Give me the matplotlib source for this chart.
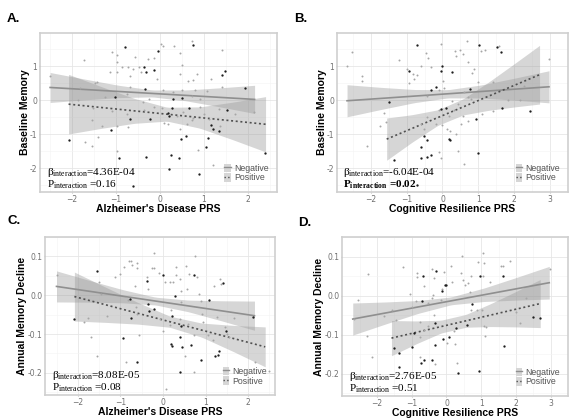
import numpy as np
import matplotlib
matplotlib.use("Agg")
import matplotlib.pyplot as plt
from matplotlib.lines import Line2D
from matplotlib.patches import Patch

# ---------------- data ----------------
# A. Alzheimer's Disease PRS vs Baseline Memory
a_neg_x = [0.72, 0.02, 0.06, 0.32, -1.10, -0.98, 0.45, 1.42, -0.57, -0.27, -0.14, -1.74, -0.98, -1.14,
           -0.87, -0.74, -0.47, -0.61, -0.43, -0.97, -0.68, 0.49, 0.45, 0.63, 0.74, 0.83, 1.17, -0.08,
           1.06, 1.40, -1.44, -1.48, -1.82, -1.86, -0.68, 0.06, 0.30, 0.51, 0.80, -1.25, -0.76, -0.38,
           -0.25, 0.72, 0.91, -1.52, -1.55, -1.33, -1.10, -0.76, -0.36, -0.13, 0.04, 0.38, 0.52, 0.76,
           0.92, 1.00, 1.12, 1.33, 1.70, 0.08, 0.19, 0.61, 0.72, 1.36, 0.45, -0.98, -0.72, -1.70, -1.55,
           -1.42, -0.98, 0.87, 1.21, 2.14, -2.50]
a_neg_y = [1.73, 1.65, 1.60, 1.58, 1.42, 1.33, 1.38, 1.47, 1.27, 1.21, 1.24, 1.18, 1.13, 0.83,
           0.96, 0.96, 0.96, 0.91, 0.83, 0.83, 0.72, 1.03, 0.76, 0.57, 0.59, 0.76, 0.62, 0.62,
           0.27, 0.37, 0.54, 0.50, 0.35, 0.00, 0.39, 0.29, 0.25, 0.30, 0.29, 0.10, 0.18, -0.07,
           0.03, 0.13, 0.02, -0.22, -0.59, -0.75, -0.31, -0.41, -0.29, -0.20, -0.22, -0.46, -0.36, -0.53,
           -0.20, -0.41, -0.56, -0.26, -0.41, -0.66, -0.69, -0.71, -0.58, -0.75, -0.85, -0.75, -0.78, -1.22, -1.34,
           -1.07, -1.51, -1.47, -1.90, -0.36, 0.72]
a_pos_x = [0.74, -0.80, -0.04, -0.36, -0.32, -0.13, 1.41, 1.48, -0.34, 1.93, -1.02, 0.29, 0.51, -0.68,
           0.17, 0.20, 0.27, 0.67, 1.52, -0.23, 1.15, 1.21, 1.33, -1.12, -2.08, 0.47, 0.58, 1.08, 1.04,
           -0.93, -0.32, 0.24, 0.42, 0.20, 0.89, -0.61, 2.39]
a_pos_y = [1.62, 1.55, 1.43, 0.98, 0.81, 0.88, 0.75, 0.84, 0.32, 0.35, 0.10, 0.03, 0.05, -0.56,
           -0.39, -0.46, -0.22, -0.22, -0.29, -0.56, -0.74, -0.85, -0.90, -0.88, -1.17, -1.15, -1.05, -1.12, -1.39,
           -1.71, -1.67, -1.61, -1.71, -2.01, -2.18, -2.52, -1.54]
a_neg_band_x = [-2.5, -1.725, -0.95, -0.175, 0.6, 1.375, 2.15]
a_neg_lo = [-0.07, 0.005, 0.072, 0.094, -0.023, -0.203, -0.394]
a_neg_hi = [0.81, 0.619, 0.436, 0.296, 0.297, 0.361, 0.434]
a_neg_fit = [0.37, 0.02]
a_pos_band_x = [-2.08, -1.333, -0.587, 0.16, 0.907, 1.653, 2.4]
a_pos_lo = [-0.995, -0.83, -0.683, -0.618, -0.826, -1.163, -1.521]
a_pos_hi = [0.755, 0.394, 0.049, -0.212, -0.2, -0.061, 0.101]
a_pos_fit = [-0.12, -0.71]

# B. Cognitive Resilience PRS vs Baseline Memory
b_neg_x = [-2.66, -2.51, -2.24, -2.23, -2.10, -1.75, -1.62, -1.57, -1.22, -1.00, -0.83, -0.72, -0.79,
           -0.92, -0.61, -0.45, -0.39, -0.31, -0.04, 0.02, 0.35, 0.39, 0.48, 0.57, 0.68, 0.70, 0.81,
           0.87, 1.07, 1.20, 1.57, 1.00, 1.40, 2.27, 2.97, -0.09, 0.03, -0.44, 0.61, 0.70, 0.80, 1.83,
           2.17, -0.10, 0.31, 0.44, 0.57, 1.40, -0.61, -0.52, -0.44, -0.17, 0.00, 0.13, 0.22, 0.52,
           0.70, 0.39, -0.09, 0.44, -0.03, 0.59, 0.26, 0.17, 1.09]
b_neg_y = [0.99, 1.42, 0.72, 0.57, -1.34, -0.75, -0.39, -0.63, 1.18, 0.91, 0.78, 0.75, 0.62,
           0.49, 1.01, 1.38, 1.25, 0.98, 1.65, 0.57, 1.45, 1.30, 1.47, 1.35, 1.73, 1.11, 0.80,
           0.91, 1.45, 1.47, 1.60, 0.52, 0.52, 0.42, 1.21, 0.29, 0.35, 0.13, 0.23, 0.08, 0.03, 0.00,
           0.00, -0.29, -0.29, -0.12, -0.46, -0.31, -0.69, -0.85, -0.51, -0.71, -0.73, -0.85, -0.90, -0.71,
           -0.61, -1.00, -1.52, -1.49, -1.71, -1.88, -0.02, -0.46, -0.41]
b_pos_x = [-1.50, -0.94, -0.70, -0.02, -0.03, 0.26, 1.02, 1.53, 1.64, -0.17, -0.31, 0.77, 1.66, 2.45,
           -0.04, 0.09, 0.94, -0.52, 0.17, -0.44, -0.61, -0.61, -0.44, -0.31, 0.20, 1.00, -1.35, -0.70]
b_pos_y = [-0.07, 0.84, 1.62, 0.99, 0.84, 0.83, 1.62, 1.55, 1.40, 0.39, 0.29, 0.32, -0.24, -0.31,
           -0.26, -0.22, -0.56, -1.05, -1.15, -1.17, -1.39, -1.69, -1.66, -1.62, -1.18, -1.54, -1.76, -2.50]
b_neg_band_x = [-2.66, -1.722, -0.783, 0.155, 1.093, 2.032, 2.97]
b_neg_lo = [-0.491, -0.278, -0.076, 0.065, 0.06, -0.004, -0.081]
b_neg_hi = [0.451, 0.374, 0.31, 0.305, 0.446, 0.648, 0.861]
b_neg_fit = [-0.02, 0.39]
b_pos_band_x = [-1.555, -0.845, -0.134, 0.576, 1.286, 1.997, 2.707]
b_pos_lo = [-1.767, -1.235, -0.745, -0.437, -0.301, -0.203, -0.117]
b_pos_hi = [-0.527, -0.429, -0.287, 0.035, 0.529, 1.063, 1.607]
b_pos_fit = [-1.147, 0.745]

# C. Alzheimer's Disease PRS vs Annual Memory Decline
c_neg_x = [-2.50, -1.85, -1.76, -1.70, -1.50, -1.55, -1.45, -1.31, -1.13, -1.00, -0.92, -0.82, -0.80,
           -0.76, -0.72, -0.62, -0.61, -0.66, -0.86, -0.64, -0.62, -0.56, -0.38, -0.22, -0.25, -0.20,
           -0.10, 0.05, -0.35, 0.00, -0.08, 0.18, 0.16, 0.23, 0.31, 0.31, 0.41, 0.43, 0.43, 0.57, 0.16,
           0.39, 0.55, 0.60, 0.80, 0.76, 0.84, 0.90, 0.92, 0.95, 0.59, 0.74, 0.52, 0.08, 0.73, 1.05,
           1.17, 1.19, 1.33, 1.36, 1.26, 1.45, 1.50, 1.56, 1.66, 2.16, 2.48]
c_neg_y = [0.051, -0.069, -0.058, -0.107, 0.033, -0.156, 0.004, -0.053, 0.046, 0.055, 0.074, -0.012, 0.088,
           0.088, 0.079, 0.084, 0.071, 0.023, -0.172, -0.030, -0.048, -0.103, 0.047, 0.109, 0.069, 0.071,
           0.057, 0.035, 0.017, -0.091, -0.062, -0.038, 0.033, 0.033, 0.074, 0.053, 0.041, 0.012, -0.018, 0.017, -0.077,
           -0.062, 0.075, 0.055, 0.047, 0.101, 0.004, -0.015, -0.048, -0.069, -0.075, -0.103, -0.156, -0.241, -0.198, -0.103,
           -0.115, 0.024, 0.041, 0.028, -0.057, -0.083, -0.101, -0.107, -0.058, -0.172, -0.194]
c_pos_x = [-2.09, -1.55, -0.78, -0.95, -0.74, -0.60, -0.37, 0.00, -0.35, -0.33, -0.22, 0.29, 0.21,
           0.20, 0.22, 0.43, 0.74, 0.39, 0.45, 0.66, 0.39, 0.90, 1.21, 1.29, 1.09, 1.42, 1.48, 1.31, 2.11]
c_pos_y = [-0.062, 0.062, -0.010, -0.111, -0.058, -0.172, 0.037, 0.051, -0.022, -0.040, -0.036, -0.003, -0.054,
           -0.126, -0.131, -0.079, 0.051, -0.107, -0.134, -0.127, -0.198, -0.166, -0.156, -0.154, -0.012, 0.032, -0.091,
           -0.144, -0.057]
c_neg_band_x = [-2.5, -1.725, -0.95, -0.176, 0.599, 1.374, 2.148]
c_neg_lo = [-0.0173, -0.0179, -0.0195, -0.025, -0.0426, -0.0659, -0.0903]
c_neg_hi = [0.0627, 0.0381, 0.0145, -0.005, -0.0126, -0.0143, -0.0151]
c_neg_fit = [0.0227, -0.0527]
c_pos_band_x = [-2.08, -1.333, -0.587, 0.16, 0.907, 1.653, 2.4]
c_pos_lo = [-0.0664, -0.0700, -0.0744, -0.0825, -0.1079, -0.1451, -0.1844]
c_pos_hi = [0.0596, 0.0200, -0.0188, -0.0539, -0.0717, -0.0777, -0.0816]
c_pos_fit = [-0.0034, -0.133]

# D. Cognitive Resilience PRS vs Annual Memory Decline
d_neg_x = [-2.67, -2.56, -2.26, -2.29, -2.14, -1.81, -1.57, -1.45, -1.26, -1.04, -0.98, -0.89, -0.86,
           -0.84, -0.75, -0.66, -0.64, -0.75, -0.75, -0.52, -0.52, -0.43, -0.39, -0.41, -0.37, -0.33,
           -0.36, -0.16, -0.12, -0.07, 0.02, 0.14, 0.17, 0.23, 0.24, 0.29, 0.41, 0.44, 0.47, 0.52, 0.63,
           0.68, 0.70, 0.70, 0.88, 0.92, 1.04, 1.08, 1.06, 1.01, 1.08, 1.10, 1.13, 1.24, 1.56, 1.62,
           1.83, 2.01, 2.13, 2.28, 2.98]
d_neg_y = [-0.061, -0.011, 0.055, -0.103, -0.157, -0.052, -0.036, -0.062, 0.074, 0.005, -0.030, -0.015, 0.057,
           0.047, -0.067, 0.025, -0.087, -0.107, -0.156, -0.018, -0.079, -0.007, 0.001, 0.067, 0.045, -0.176,
           -0.050, -0.012, 0.017, 0.061, -0.121, 0.075, 0.036, -0.091, -0.123, -0.172, 0.057, 0.102, 0.039, 0.027, 0.033,
           0.009, 0.051, -0.038, -0.038, 0.085, 0.109, 0.084, 0.051, -0.038, -0.079, -0.103, -0.080, 0.035, 0.075, 0.075,
           0.088, -0.042, -0.071, -0.007, 0.069]
d_pos_x = [-1.52, -1.38, -1.38, -0.95, -0.98, -0.71, -0.68, -0.72, -0.66, -0.30, -0.34, -0.34, -0.41,
           -0.12, -0.10, -0.05, 0.00, 0.06, 0.26, 0.33, 0.58, 0.74, 0.97, 0.95, 1.62, 1.65, 2.49, 2.69]
d_pos_y = [-0.133, -0.148, -0.182, -0.095, -0.131, -0.014, 0.051, -0.172, -0.166, 0.063, -0.071, -0.127, -0.164,
           0.012, -0.111, 0.027, 0.028, -0.107, -0.083, -0.198, -0.075, -0.022, 0.051, -0.194, 0.049, -0.129, -0.054, -0.058]
d_neg_band_x = [-2.7, -1.757, -0.813, 0.13, 1.073, 2.017, 2.96]
d_neg_lo = [-0.101, -0.0727, -0.0454, -0.0235, -0.0151, -0.0115, -0.0088]
d_neg_hi = [-0.019, -0.0163, -0.0126, -0.0035, 0.0191, 0.0465, 0.0748]
d_neg_fit = [-0.060, 0.033]
d_pos_band_x = [-1.585, -0.871, -0.157, 0.558, 1.272, 1.986, 2.70]
d_pos_lo = [-0.1538, -0.1233, -0.0958, -0.0810, -0.0792, -0.0801, -0.0819]
d_pos_hi = [-0.0638, -0.0649, -0.0630, -0.0482, -0.0206, 0.0099, 0.0411]
d_pos_fit = [-0.1088, -0.0204]

panel_letters = ["A.", "B.", "C.", "D."]
x_labels = ["Alzheimer's Disease PRS", "Cognitive Resilience PRS",
            "Alzheimer's Disease PRS", "Cognitive Resilience PRS"]
y_labels = ["Baseline Memory", "Baseline Memory", "Annual Memory Decline", "Annual Memory Decline"]
beta_texts = ["4.36E-04", "-6.04E-04", "8.08E-05", "2.76E-05"]
p_texts = ["0.16", "0.02", "0.08", "0.51"]
group_labels = ["Negative", "Positive"]

# ---------------- drawing ----------------
NEG_PT = "#a6a6a6"
POS_PT = "#1e1e1e"
NEG_LINE = "#8f8f8f"
POS_LINE = "#505050"
BAND = "#999999"

fig = plt.figure(figsize=(5.69, 4.19), dpi=100)
W, H = 569.0, 419.0


def px_axes(left, top, right, bottom):
    return fig.add_axes([left / W, 1 - bottom / H, (right - left) / W, (bottom - top) / H])


def draw_panel(ax, neg, pos, xlim, ylim, xticks, yticks, ylabfmt):
    ax.set_facecolor("white")
    for band_x, lo, hi, fit, style, col in [
        (neg["bx"], neg["lo"], neg["hi"], neg["fit"], "-", NEG_LINE),
        (pos["bx"], pos["lo"], pos["hi"], pos["fit"], (0, (1.2, 1.6)), POS_LINE),
    ]:
        gx = np.linspace(band_x[0], band_x[-1], 60)
        ax.fill_between(gx, np.interp(gx, band_x, lo), np.interp(gx, band_x, hi),
                        color=BAND, alpha=0.4, linewidth=0, zorder=2)
        ax.plot([band_x[0], band_x[-1]], fit, linestyle=style, color=col, lw=1.2, zorder=3)
    ax.scatter(neg["x"], neg["y"], s=2.0, color=NEG_PT, linewidths=0, zorder=4)
    ax.scatter(pos["x"], pos["y"], s=2.8, color=POS_PT, linewidths=0, zorder=4)

    ax.set_xlim(*xlim)
    ax.set_ylim(*ylim)
    ax.set_xticks(xticks)
    ax.set_yticks(yticks)
    ax.set_yticklabels([ylabfmt.format(v) for v in yticks])
    xstep = xticks[1] - xticks[0]
    ax.set_xticks([v + xstep / 2 for v in xticks] + [xticks[0] - xstep / 2], minor=True)
    ystep = yticks[1] - yticks[0]
    ax.set_yticks([v + ystep / 2 for v in yticks] + [yticks[0] - ystep / 2], minor=True)
    ax.grid(which="major", color="#e6e6e6", lw=0.6, zorder=0)
    ax.grid(which="minor", color="#f3f3f3", lw=0.4, zorder=0)
    ax.set_axisbelow(True)
    ax.tick_params(which="both", length=0)
    ax.tick_params(which="major", labelsize=5.5, labelcolor="#707070", pad=1, length=1, color="#bbbbbb")
    for s in ax.spines.values():
        s.set_color("#cfcfcf")
        s.set_linewidth(1.2)


def add_texts(ax, i, beta_x):
    ax.set_xlabel(x_labels[i], fontsize=7.5, fontweight="bold", family="Liberation Sans", labelpad=0)
    ax.set_ylabel(y_labels[i], fontsize=7.5, fontweight="bold", family="Liberation Sans", labelpad=0)
    ax.text(beta_x, 0.125, r"$\mathregular{\beta_{interaction}}$=" + beta_texts[i],
            transform=ax.transAxes, family="Liberation Serif", fontsize=8, va="center", zorder=6)
    ax.text(beta_x, 0.048, r"$\mathregular{P_{interaction}}$ =" + p_texts[i],
            transform=ax.transAxes, family="Liberation Serif", fontsize=8, va="center", zorder=6,
            fontweight="bold" if i == 1 else "normal")
    handles = [
        (Patch(facecolor="#d6d6d6", edgecolor="none"), Line2D([], [], color=NEG_LINE, lw=1.0)),
        (Patch(facecolor="#d6d6d6", edgecolor="none"), Line2D([], [], color=POS_LINE, lw=1.0, ls=":")),
    ]
    leg = ax.legend(handles, group_labels, loc="lower right", bbox_to_anchor=(0.965, 0.06),
                    frameon=False, fontsize=6.3, handlelength=0.7, handleheight=1.1,
                    handletextpad=0.4, labelspacing=0.05, borderaxespad=0, borderpad=0)
    for t in leg.get_texts():
        t.set_color("#555555")
        t.set_family("Liberation Sans")


panels = [
    (px_axes(40, 33, 277, 192),
     dict(x=a_neg_x, y=a_neg_y, bx=a_neg_band_x, lo=a_neg_lo, hi=a_neg_hi, fit=a_neg_fit),
     dict(x=a_pos_x, y=a_pos_y, bx=a_pos_band_x, lo=a_pos_lo, hi=a_pos_hi, fit=a_pos_fit),
     (-2.73, 2.66), (-2.7, 1.97), [-2, -1, 0, 1, 2], [-2, -1, 0, 1], "{:g}", 0.03),
    (px_axes(337, 33, 568, 192),
     dict(x=b_neg_x, y=b_neg_y, bx=b_neg_band_x, lo=b_neg_lo, hi=b_neg_hi, fit=b_neg_fit),
     dict(x=b_pos_x, y=b_pos_y, bx=b_pos_band_x, lo=b_pos_lo, hi=b_pos_hi, fit=b_pos_fit),
     (-2.94, 3.1), (-2.7, 1.97), [-2, -1, 0, 1, 2, 3], [-2, -1, 0, 1], "{:g}", 0.026),
    (px_axes(45, 237, 275, 395),
     dict(x=c_neg_x, y=c_neg_y, bx=c_neg_band_x, lo=c_neg_lo, hi=c_neg_hi, fit=c_neg_fit),
     dict(x=c_pos_x, y=c_pos_y, bx=c_pos_band_x, lo=c_pos_lo, hi=c_pos_hi, fit=c_pos_fit),
     (-2.77, 2.63), (-0.257, 0.127), [-2, -1, 0, 1, 2], [-0.2, -0.1, 0.0, 0.1], "{:.1f}", 0.03),
    (px_axes(342, 237, 568, 396),
     dict(x=d_neg_x, y=d_neg_y, bx=d_neg_band_x, lo=d_neg_lo, hi=d_neg_hi, fit=d_neg_fit),
     dict(x=d_pos_x, y=d_pos_y, bx=d_pos_band_x, lo=d_pos_lo, hi=d_pos_hi, fit=d_pos_fit),
     (-3.01, 3.1), (-0.257, 0.127), [-2, -1, 0, 1, 2, 3], [-0.2, -0.1, 0.0, 0.1], "{:.1f}", 0.03),
]

for i, (ax, neg, pos, xl, yl, xt, yt, fmt, bx) in enumerate(panels):
    draw_panel(ax, neg, pos, xl, yl, xt, yt, fmt)
    add_texts(ax, i, bx)

for letter, (x, y) in zip(panel_letters, [(7, 19), (294, 19), (7, 221), (298, 223)]):
    fig.text(x / W, 1 - y / H, letter, fontsize=9.5, fontweight="bold",
             family="Liberation Sans", va="center", ha="left")

fig.savefig("out.png", dpi=100, facecolor="white")
